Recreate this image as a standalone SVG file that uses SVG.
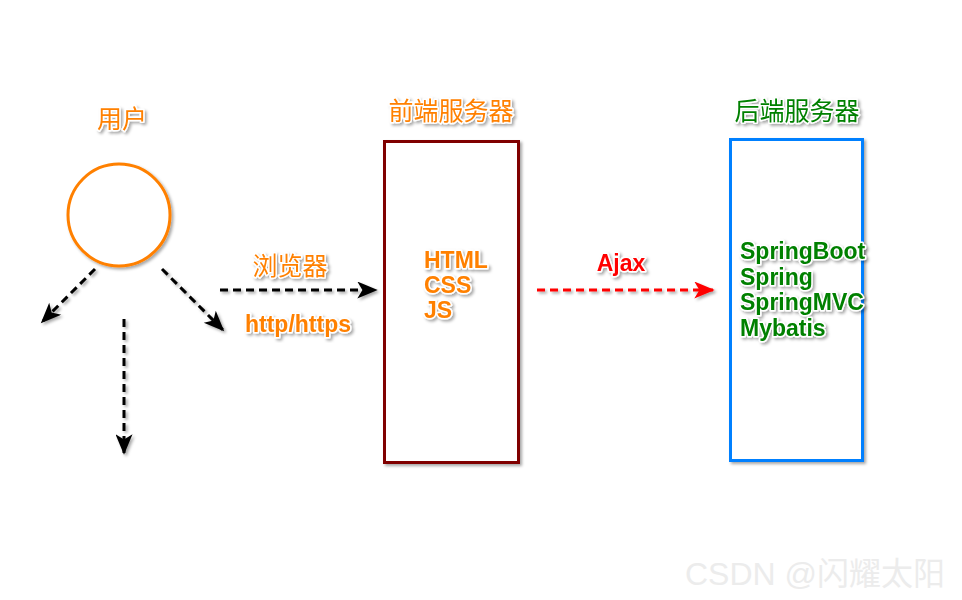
<svg xmlns="http://www.w3.org/2000/svg" width="962" height="600" viewBox="0 0 962 600">
<defs>
<filter id="sh" x="-20%" y="-20%" width="140%" height="140%">
<feDropShadow dx="2" dy="2" stdDeviation="1.5" flood-color="#000" flood-opacity="0.35"/>
</filter>
<filter id="lsh" filterUnits="userSpaceOnUse" x="0" y="0" width="962" height="600">
<feDropShadow dx="2" dy="2" stdDeviation="1.5" flood-color="#000" flood-opacity="0.35"/>
</filter>
<marker id="ab" viewBox="0 0 12 10" refX="11" refY="5" markerWidth="22" markerHeight="17" markerUnits="userSpaceOnUse" orient="auto">
<path d="M0,0 L12,5 L0,10 L3,5 Z" fill="#000"/>
</marker>
<marker id="ar" viewBox="0 0 12 10" refX="11" refY="5" markerWidth="22" markerHeight="17" markerUnits="userSpaceOnUse" orient="auto">
<path d="M0,0 L12,5 L0,10 L3,5 Z" fill="#ff0000"/>
</marker>
</defs>
<style>
.t{font-family:"Noto Sans CJK SC","Liberation Sans",sans-serif;font-size:25px;stroke:#fff;stroke-width:3px;paint-order:stroke;stroke-linejoin:round;filter:url(#sh)}
.b{font-family:"Liberation Sans",Arial,sans-serif;font-weight:bold;font-size:23px;stroke:#fff;stroke-width:3px;paint-order:stroke;stroke-linejoin:round;filter:url(#sh)}
.o{fill:#ff8000}
.g{fill:#008000}
.r{fill:#ff0000}
.dash{fill:none;stroke-width:3;stroke-dasharray:8 5;filter:url(#lsh)}
</style>
<rect width="962" height="600" fill="#fff"/>
<g id="user">
<text class="t o" x="122" y="128" text-anchor="middle">用户</text>
<circle cx="119" cy="215" r="51" fill="#fff" stroke="#ff8000" stroke-width="3" filter="url(#sh)"/>
</g>
<g id="frontend">
<text class="t o" x="451" y="120" text-anchor="middle">前端服务器</text>
<rect x="384.5" y="141.5" width="134" height="321" fill="#fff" stroke="#800000" stroke-width="3" filter="url(#sh)"/>
<text class="b o" x="424" y="268">HTML</text>
<text class="b o" x="424" y="293">CSS</text>
<text class="b o" x="424" y="318">JS</text>
</g>
<g id="backend">
<text class="t g" x="797" y="120" text-anchor="middle">后端服务器</text>
<rect x="730.5" y="139.5" width="132" height="321" fill="#fff" stroke="#0080ff" stroke-width="3" filter="url(#sh)"/>
<text class="b g" x="740" y="259" font-size="22.5">SpringBoot</text>
<text class="b g" x="740" y="285" font-size="22.5">Spring</text>
<text class="b g" x="740" y="310" font-size="22.5">SpringMVC</text>
<text class="b g" x="740" y="336" font-size="22.5">Mybatis</text>
</g>
<g id="connectors">
<line class="dash" x1="95" y1="269" x2="42" y2="322" stroke="#000" marker-end="url(#ab)"/>
<line class="dash" x1="162" y1="269" x2="223" y2="330" stroke="#000" marker-end="url(#ab)"/>
<line class="dash" x1="124" y1="319" x2="124" y2="453" stroke="#000" marker-end="url(#ab)"/>
<line class="dash" x1="220" y1="290" x2="376" y2="290" stroke="#000" marker-end="url(#ab)"/>
<text class="t o" x="290" y="275" text-anchor="middle">浏览器</text>
<text class="b o" x="298" y="332" text-anchor="middle" font-size="21.5">http/https</text>
<line class="dash" x1="537" y1="290" x2="713" y2="290" stroke="#ff0000" marker-end="url(#ar)"/>
<text class="b r" x="621" y="271" text-anchor="middle" font-size="21.5">Ajax</text>
</g>
<text x="815" y="585" text-anchor="middle" font-family="'Liberation Sans','Noto Sans CJK SC',sans-serif" font-size="32" fill="#ececec">CSDN @闪耀太阳</text>
</svg>
